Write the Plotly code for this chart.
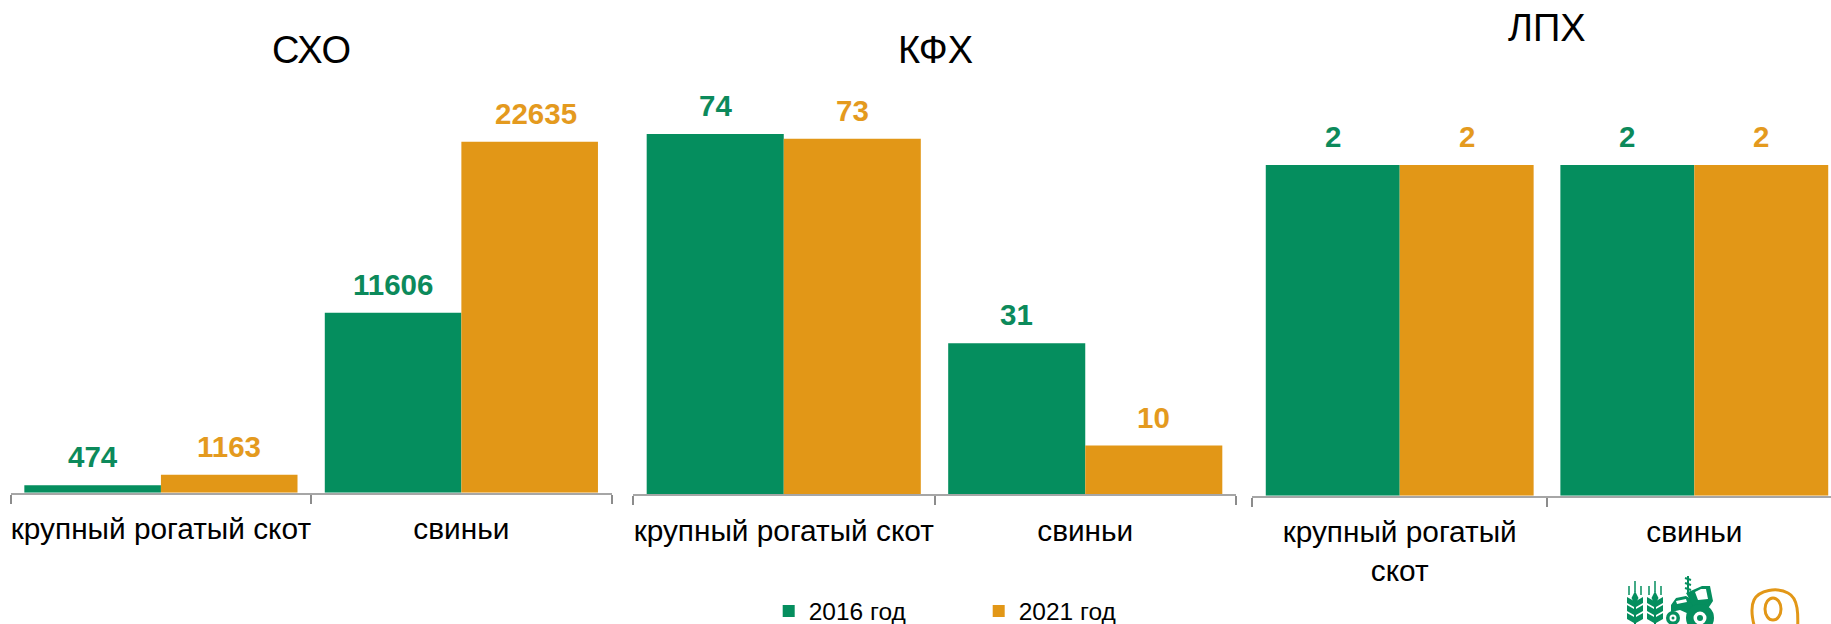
import plotly.graph_objects as go

W, H = 1831, 624
FONT = "Liberation Sans"
GREEN = "#058E5E"
ORANGE = "#E29717"
GREEN_TXT = "#0C8A5B"
ORANGE_TXT = "#E49A1E"

series_names = ["2016 год", "2021 год"]
categories = ["крупный рогатый скот", "свиньи"]
categories_wrapped = ["крупный рогатый<br>скот", "свиньи"]
panel_titles = ["СХО", "КФХ", "ЛПХ"]

sho_2016 = [474, 11606]
sho_2021 = [1163, 22635]
kfh_2016 = [74, 31]
kfh_2021 = [73, 10]
lph_2016 = [2, 2]
lph_2021 = [2, 2]

panels = [
    dict(a=sho_2016, b=sho_2021, cats=categories, x0=10.7, x1=611.6, base=492.7, top_v=22635, top_px=141.7, title_x=311, title_y=50, xrange=[-0.5, 1.5], bump=[0, 0, 0, 6]),
    dict(a=kfh_2016, b=kfh_2021, cats=categories, x0=633, x1=1236, base=494.3, top_v=74, top_px=134, title_x=935.6, title_y=50, xrange=[-0.5, 1.5], bump=[0, 0, 0, 0]),
    dict(a=lph_2016, b=lph_2021, cats=categories_wrapped, x0=1252.4, x1=1831, base=495.7, top_v=2, top_px=165, title_x=1547, title_y=28, xrange=[-0.5, 1.464], bump=[0, 0, 0, 0]),
]

fig = go.Figure()
annotations = []
BAR_W = 0.4546
PLOT_TOP = 60

layout_axes = {}
for i, p in enumerate(panels):
    n = "" if i == 0 else str(i + 1)
    xa, ya = f"x{n}", f"y{n}"
    per_px = p["top_v"] / (p["base"] - p["top_px"])
    ymax = (p["base"] - PLOT_TOP) * per_px
    for s, (vals, col) in enumerate([(p["a"], GREEN), (p["b"], ORANGE)]):
        fig.add_trace(go.Bar(
            x=p["cats"], y=vals, name=series_names[s], xaxis=xa, yaxis=ya,
            marker=dict(color=col, line=dict(width=0)), legendgroup=series_names[s],
            showlegend=(i == 0), width=BAR_W,
            offset=(-BAR_W if s == 0 else 0), cliponaxis=False,
        ))
    for s, (vals, col) in enumerate([(p["a"], GREEN_TXT), (p["b"], ORANGE_TXT)]):
        for c, v in enumerate(vals):
            annotations.append(dict(
                x=c + (-BAR_W / 2 if s == 0 else BAR_W / 2), y=v, xref=xa, yref=ya,
                text=f"<b>{v}</b>", showarrow=False, yanchor="bottom", yshift=10,
                xshift=p["bump"][s * 2 + c],
                font=dict(family=FONT, size=29.5, color=col),
            ))
    annotations.append(dict(
        x=p["title_x"] / W, y=1 - p["title_y"] / H, xref="paper", yref="paper",
        text=panel_titles[i], showarrow=False, xanchor="center", yanchor="middle",
        font=dict(family=FONT, size=38, color="#000000"),
    ))
    layout_axes["xaxis" + n] = dict(
        domain=[p["x0"] / W, p["x1"] / W], range=p["xrange"], anchor=ya, type="category",
        tickson="boundaries", ticks="outside", ticklen=9, tickwidth=1.5, tickcolor="#8C8C8C",
        showline=True, linecolor="#A6A6A6", linewidth=2, showgrid=False, zeroline=False,
        tickfont=dict(family=FONT, size=29.8, color="#000000"), automargin=False,
        ticklabelstandoff=9, tickangle=0,
    )
    layout_axes["yaxis" + n] = dict(
        domain=[1 - p["base"] / H, 1 - PLOT_TOP / H], range=[0, ymax], anchor=xa,
        visible=False, showgrid=False, zeroline=False,
    )


def px(x, y):
    return f"{x / W:.5f},{1 - y / H:.5f}"


shapes = []


def poly(points, color=GREEN):
    d = "M " + " L ".join(px(*q) for q in points) + " Z"
    shapes.append(dict(type="path", xref="paper", yref="paper", path=d, fillcolor=color, line=dict(width=0), layer="above"))


def line(x0, y0, x1, y1, color=GREEN, w=2):
    shapes.append(dict(type="line", xref="paper", yref="paper", x0=x0 / W, x1=x1 / W, y0=1 - y0 / H, y1=1 - y1 / H, line=dict(color=color, width=w)))


def ell(cx, cy, rx, ry, fill, lc=None, lw=0):
    shapes.append(dict(type="circle", xref="paper", yref="paper", x0=(cx - rx) / W, x1=(cx + rx) / W,
                       y0=1 - (cy + ry) / H, y1=1 - (cy - ry) / H, fillcolor=fill,
                       line=dict(color=lc or fill, width=lw)))


for wx in (1635, 1655):
    line(wx, 581, wx, 592, w=1.5)
    line(wx - 6, 586, wx - 6, 595, w=1.5)
    line(wx + 6, 586, wx + 6, 595, w=1.5)
    line(wx, 596, wx, 624, w=2)
    poly([(wx, 591), (wx + 3.5, 598), (wx, 605), (wx - 3.5, 598)])
    for ly in (600, 608, 616):
        poly([(wx - 8, ly - 3), (wx - 1, ly + 1), (wx - 1, ly + 7), (wx - 8, ly + 3)])
        poly([(wx + 8, ly - 3), (wx + 1, ly + 1), (wx + 1, ly + 7), (wx + 8, ly + 3)])

# tractor
poly([(1671, 605), (1676, 598), (1686, 596), (1693, 600), (1696, 607), (1689, 614), (1680, 610), (1671, 612)])
poly([(1686, 593), (1702, 586), (1710, 586), (1713, 601), (1709, 607), (1693, 607), (1690, 600)])
poly([(1695, 592), (1701, 589), (1706, 589), (1708, 599), (1698, 600)], "#FFFFFF")
poly([(1676, 601), (1686, 599), (1687, 602), (1677, 604)], "#FFFFFF")
line(1688, 576, 1688, 594, w=2)
for zy in (578, 583, 588):
    line(1685, zy, 1691, zy + 2, w=2)
ell(1673, 618, 7, 7, GREEN)
ell(1673, 618, 3.5, 3.5, "#FFFFFF")
ell(1673, 618, 1.5, 1.5, GREEN)
ell(1700, 618, 14, 14, GREEN)
ell(1700, 618, 6.5, 6.5, "#FFFFFF")
ell(1700, 618, 3, 3, GREEN)

# orange outline mark
blob = ("M " + px(1760, 640) + " C " + px(1752, 625) + " " + px(1750, 608) + " " + px(1754, 600)
        + " C " + px(1759, 590) + " " + px(1777, 587) + " " + px(1788, 593)
        + " C " + px(1798, 598) + " " + px(1799, 612) + " " + px(1797, 640))
shapes.append(dict(type="path", xref="paper", yref="paper", path=blob, line=dict(color=ORANGE, width=3), fillcolor="rgba(0,0,0,0)"))
ell(1773, 609, 8, 11, "rgba(0,0,0,0)", ORANGE, 3)

fig.update_layout(
    width=W, height=H, margin=dict(l=0, r=0, t=0, b=0, autoexpand=False), autosize=False,
    paper_bgcolor="#FFFFFF", plot_bgcolor="#FFFFFF", barmode="overlay",
    annotations=annotations, shapes=shapes, showlegend=True,
    font=dict(family=FONT, color="#000000"),
    legend=dict(
        orientation="h", x=768.7 / W, y=1 - 611 / H, xanchor="left", yanchor="middle",
        entrywidth=165, entrywidthmode="pixels", itemclick=False,
        font=dict(family=FONT, size=24.5, color="#000000"), bgcolor="rgba(0,0,0,0)",
        tracegroupgap=0,
    ),
    **layout_axes,
)

fig.write_html("out.html", config=dict(displayModeBar=False),
               post_script="document.body.style.margin='0';document.documentElement.style.overflow='hidden';")
